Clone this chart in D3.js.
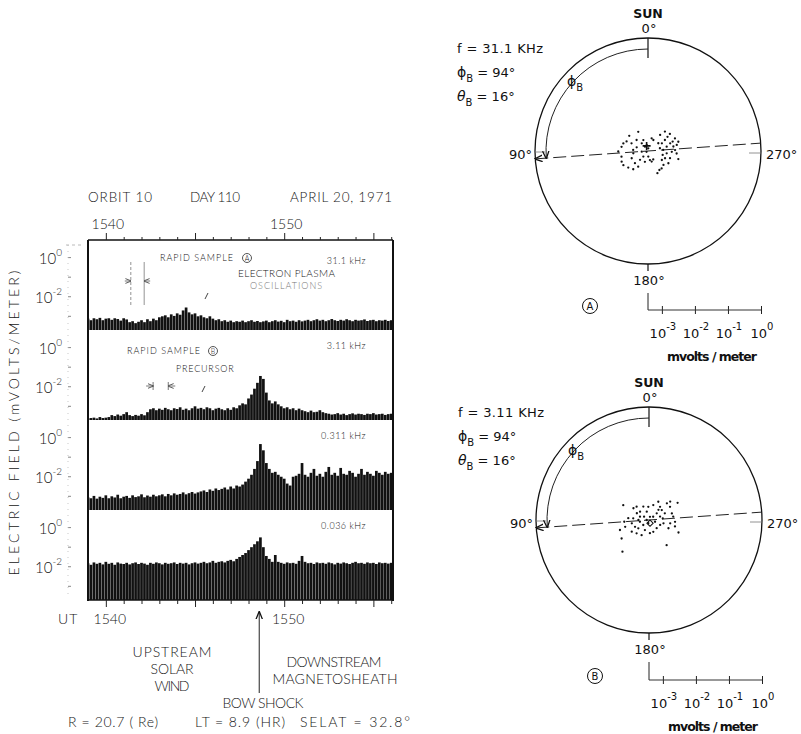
<!DOCTYPE html>
<html>
<head>
<meta charset="utf-8">
<script src="https://cdn.jsdelivr.net/npm/d3@7"></script>
<style>
  html, body { margin: 0; padding: 0; background: #fff; }
  svg { display: block; }
  .lt { font-family: Lato, "Open Sans", "DejaVu Sans", sans-serif; font-weight: 300; fill: #151515; }
  .pl { font-family: "DejaVu Sans", sans-serif; fill: #111; }
</style>
</head>
<body>
<svg id="fig" width="801" height="734"></svg>
<script>
// ---- Time series: log10 of electric field (mV/m), one sample every 10 s from 15:39:00 UT ----
const startMinute = 39;      // minutes after 15:00 UT
const stepMinute = 1 / 6;    // 10 s sampling
const bowShockMinute = 48.6;

const logE_31_1kHz = [
  -3.12,-3.20,-3.10,-3.15,-3.08,-3.20,-3.12,-3.10,-3.18,-3.10,
  -3.14,-3.22,-3.10,-3.16,-3.30,-3.25,-3.35,-3.28,-3.20,-3.30,
  -3.15,-3.25,-3.12,-3.20,-3.05,-3.00,-2.95,-3.05,-2.90,-2.98,
  -2.85,-2.92,-2.70,-2.55,-2.80,-2.90,-2.85,-3.00,-2.95,-3.05,
  -3.10,-3.00,-3.12,-3.20,-3.15,-3.25,-3.20,-3.28,-3.22,-3.30,
  -3.25,-3.28,-3.22,-3.30,-3.25,-3.20,-3.28,-3.24,-3.30,-3.26,
  -3.22,-3.30,-3.25,-3.20,-3.27,-3.23,-3.30,-3.18,-3.25,-3.22,
  -3.28,-3.20,-3.26,-3.22,-3.18,-3.25,-3.20,-3.15,-3.22,-3.18,
  -3.25,-3.20,-3.14,-3.20,-3.24,-3.18,-3.22,-3.15,-3.20,-3.25,
  -3.18,-3.22,-3.20,-3.16,-3.24,-3.20,-3.18,-3.25,-3.20,-3.22,
  -3.18,-3.24,-3.20
];
const logE_3_11kHz = [
  -3.62,-3.60,-3.58,-3.62,-3.55,-3.60,-3.58,-3.55,-3.45,-3.50,
  -3.42,-3.48,-3.40,-3.30,-3.45,-3.50,-3.44,-3.48,-3.40,-3.46,
  -3.30,-3.15,-3.10,-3.20,-3.12,-3.18,-3.08,-3.15,-3.20,-3.10,
  -3.14,-3.05,-3.18,-3.12,-3.20,-3.10,-3.00,-3.12,-3.08,-3.15,
  -3.05,-3.10,-3.20,-3.12,-3.08,-3.15,-3.20,-3.10,-3.18,-3.05,
  -3.10,-2.95,-2.85,-2.90,-2.60,-2.40,-2.10,-1.80,-1.45,-1.60,
  -2.30,-2.70,-2.85,-2.75,-2.90,-3.00,-3.10,-3.05,-3.15,-3.10,
  -3.20,-3.12,-3.20,-3.25,-3.30,-3.22,-3.30,-3.28,-3.20,-3.30,
  -3.35,-3.38,-3.42,-3.40,-3.35,-3.42,-3.38,-3.45,-3.40,-3.36,
  -3.42,-3.38,-3.40,-3.44,-3.38,-3.40,-3.35,-3.42,-3.40,-3.38,
  -3.44,-3.40,-3.38
];
const logE_0_311kHz = [
  -3.05,-3.10,-2.98,-3.12,-3.02,-3.08,-2.95,-3.10,-3.00,-3.06,
  -2.92,-3.10,-3.02,-2.98,-3.08,-2.95,-3.04,-3.00,-2.90,-3.05,
  -2.96,-3.02,-2.92,-3.00,-2.95,-2.90,-3.00,-2.88,-2.95,-2.85,
  -2.92,-2.88,-2.80,-2.90,-2.84,-2.78,-2.86,-2.80,-2.75,-2.70,
  -2.78,-2.65,-2.72,-2.60,-2.68,-2.62,-2.55,-2.65,-2.50,-2.60,
  -2.45,-2.50,-2.40,-2.25,-2.10,-1.90,-1.60,-1.20,-0.33,-0.65,
  -1.30,-1.60,-1.80,-1.75,-1.90,-2.00,-2.10,-2.35,-2.45,-2.00,
  -1.95,-1.85,-1.30,-1.90,-2.00,-1.80,-1.60,-1.95,-1.85,-2.00,
  -1.75,-1.50,-1.90,-1.80,-1.95,-1.55,-1.85,-1.90,-1.70,-1.80,
  -2.00,-1.85,-1.60,-1.90,-1.75,-1.85,-1.95,-1.70,-1.80,-1.90,
  -1.75,-1.85,-1.80
];
const logE_0_036kHz = [
  -1.82,-1.90,-1.78,-1.85,-1.80,-1.88,-1.75,-1.85,-1.80,-1.90,
  -1.78,-1.84,-1.86,-1.80,-1.88,-1.82,-1.78,-1.86,-1.80,-1.84,
  -1.90,-1.80,-1.85,-1.78,-1.82,-1.88,-1.80,-1.85,-1.82,-1.78,
  -1.86,-1.80,-1.84,-1.80,-1.88,-1.82,-1.78,-1.84,-1.80,-1.75,
  -1.82,-1.78,-1.70,-1.80,-1.75,-1.72,-1.78,-1.70,-1.65,-1.72,
  -1.60,-1.50,-1.40,-1.30,-1.15,-1.00,-0.85,-0.70,-0.50,-1.00,
  -1.45,-1.60,-1.75,-1.40,-1.75,-1.80,-1.85,-1.78,-1.82,-1.80,
  -1.85,-1.70,-1.45,-1.75,-1.82,-1.80,-1.86,-1.78,-1.82,-1.80,
  -1.85,-1.78,-1.82,-1.88,-1.80,-1.84,-1.78,-1.82,-1.86,-1.80,
  -1.75,-1.82,-1.80,-1.85,-1.78,-1.82,-1.80,-1.86,-1.78,-1.82,
  -1.80,-1.84,-1.80
];
const channelLabels = ["31.1 kHz", "3.11 kHz", "0.311 kHz", "0.036 kHz"];
const channelSeries = [logE_31_1kHz, logE_3_11kHz, logE_0_311kHz, logE_0_036kHz];
const fieldTickExponents = [0, -2];
const timeLabelMinutes = [40, 50];
const rapidSampleA = [41.4, 42.15];
const rapidSampleB = [42.65, 43.5];

// ---- Rapid-sample polar plots: [azimuth from Sun (deg, counter-clockwise), log10 E (mV/m)] ----
const scatterA = [
  [27,-2.77],[51,-2.69],[66,-2.71],[73,-2.64],[81,-2.61],[91,-2.52],[102,-2.60],[112,-2.56],[120,-2.56],[130,-2.64],
  [141,-2.71],[148,-2.86],[133,-2.88],[114,-2.88],[99,-2.97],[72,-3.06],[39,-3.12],[23,-3.06],[12,-3.24],[354,-3.34],
  [35,-3.26],[118,-3.37],[140,-3.20],[138,-3.06],[164,-3.08],[192,-3.14],[199,-3.08],[212,-3.12],[183,-3.25],[96,-3.23],
  [344,-3.02],[334,-3.05],[46,-2.94],[65,-2.87],[86,-2.97],
  [323,-2.81],[319,-2.64],[308,-2.58],[295,-2.52],[287,-2.46],[282,-2.53],[280,-2.64],[289,-2.71],[303,-2.81],[299,-2.94],
  [283,-3.05],[274,-2.96],[263,-2.85],[268,-2.70],[265,-2.55],[255,-2.47],[252,-2.72],[247,-2.86],[237,-2.92],[228,-2.79],
  [218,-2.75],[211,-2.75],[203,-2.69],[239,-2.70],[272,-2.60],[283,-2.84],[255,-2.96],[307,-3.03],[306,-2.69],[291,-2.62]
];
const scatterB = [
  [60,-2.52],[94,-2.67],[109,-2.49],[140,-2.17],[53,-2.83],[43,-2.87],[47,-3.05],[23,-2.98],[3,-3.02],[344,-2.95],
  [333,-2.80],[320,-2.90],[308,-2.93],[313,-2.68],[311,-2.57],[301,-2.41],[278,-2.68],[266,-2.63],[261,-2.77],[247,-2.78],
  [247,-2.45],[256,-2.61],[287,-3.07],[311,-3.11],[308,-3.26],[70,-3.13],[90,-3.10],[84,-2.94],[101,-2.89],[116,-2.95],
  [128,-3.01],[131,-3.19],[101,-3.14],[168,-3.32],[158,-3.09],[184,-3.02],[200,-3.04],[223,-3.08],[246,-3.05],[257,-2.97],
  [215,-2.49],[124,-2.42],[106,-2.67],[85,-2.79],[56,-3.24],[90,-3.35],[254,-3.23],[124,-2.79],[137,-2.87],[154,-2.91],
  [277,-3.00],[286,-2.70],[302,-2.67],[293,-2.90],[343,-3.32],[61,-3.00],[15,-3.16],[317,-3.00]
];
const markA = [15, -3.26];
const markB = [198, -3.32];
const fieldAzimuth = 94;       // phi_B (deg)
const fieldElevation = 16;     // theta_B (deg)
const scaleTickValues = [1e-3, 1e-2, 1e-1, 1e0];
const scaleTickExps = ["-3", "-2", "-1", "0"];

// ------------------------------------------------------------------
const svg = d3.select("#fig");
const defs = svg.append("defs");
function arrowMarker(id, size, fill) {
  defs.append("marker").attr("id", id)
    .attr("viewBox", "0 0 10 10").attr("refX", 9).attr("refY", 5)
    .attr("markerWidth", size).attr("markerHeight", size)
    .attr("markerUnits", "userSpaceOnUse")
    .attr("orient", "auto-start-reverse")
    .append("path").attr("d", "M0,1 L10,5 L0,9").attr("fill", "none")
    .attr("stroke", fill).attr("stroke-width", 1.6);
}
arrowMarker("arr", 8, "#111");
arrowMarker("arrSmall", 6, "#555");
defs.append("clipPath").attr("id", "boxClip").append("rect")
  .attr("x", 88).attr("y", 240).attr("width", 305).attr("height", 360);

// ---- Left: four stacked channels ----
const boxL = 88, boxR = 393, boxT = 240, panelH = 90;
const time = d3.scaleLinear().domain([39, 56.1]).range([boxL, boxR]);

const plotG = svg.append("g").attr("clip-path", "url(#boxClip)");
channelSeries.forEach((series, p) => {
  const top = boxT + p * panelH, bottom = top + panelH;
  const y = d3.scaleLog().domain([10 ** -3.7, 10 ** 0.9]).range([bottom, top]);
  plotG.append("g").selectAll("rect").data(series).join("rect")
    .attr("x", (d, i) => time(startMinute + i * stepMinute) - 1.35)
    .attr("width", 2.7)
    .attr("y", d => y(10 ** d))
    .attr("height", d => bottom - y(10 ** d))
    .attr("fill", "#111");

  // decade tick dots left of the box
  const tg = svg.append("g");
  d3.range(-3, 1).forEach(e => {
    tg.append("line").attr("x1", 68).attr("x2", 71)
      .attr("y1", y(10 ** e)).attr("y2", y(10 ** e))
      .attr("stroke", "#888").attr("stroke-width", 1);
  });
  fieldTickExponents.forEach(e => {
    const t = svg.append("text").attr("class", "lt")
      .attr("x", 62).attr("y", y(10 ** e) + 6)
      .attr("text-anchor", "end").attr("font-size", 15);
    t.append("tspan").text("10");
    t.append("tspan").attr("dy", -8).attr("font-size", 10).text(e === 0 ? "0" : "-2");
  });
  svg.append("text").attr("class", "lt").attr("x", 366).attr("y", top + (p === 0 ? 24 : 19))
    .attr("text-anchor", "end").attr("font-size", 9).attr("letter-spacing", 0.5)
    .text(channelLabels[p]);
});

// faint dotted guide at the tick column
svg.append("line").attr("x1", 68).attr("x2", 68).attr("y1", 245).attr("y2", 598)
  .attr("stroke", "#bbb").attr("stroke-width", 0.8).attr("stroke-dasharray", "1,5");
svg.append("line").attr("x1", 66).attr("x2", 84).attr("y1", 245).attr("y2", 245)
  .attr("stroke", "#aaa").attr("stroke-width", 0.8).attr("stroke-dasharray", "3,3");

// box frame
svg.append("line").attr("x1", boxL).attr("x2", boxR).attr("y1", boxT).attr("y2", boxT)
  .attr("stroke", "#111").attr("stroke-width", 1.3);
svg.append("line").attr("x1", boxL).attr("x2", boxL).attr("y1", boxT).attr("y2", 601)
  .attr("stroke", "#111").attr("stroke-width", 2);
svg.append("line").attr("x1", boxR).attr("x2", boxR).attr("y1", boxT).attr("y2", 601)
  .attr("stroke", "#111").attr("stroke-width", 2);
svg.append("line").attr("x1", boxL).attr("x2", boxR).attr("y1", 600).attr("y2", 600)
  .attr("stroke", "#111").attr("stroke-width", 1.3);

// minute ticks, top and bottom
const minuteTicks = d3.range(40, 57);
const topAxis = svg.append("g").attr("transform", `translate(0,${boxT})`)
  .call(d3.axisTop(time).tickValues(minuteTicks).tickSize(3).tickFormat(""));
const botAxis = svg.append("g").attr("transform", "translate(0,600)")
  .call(d3.axisBottom(time).tickValues(minuteTicks).tickSize(4).tickFormat(""));
[topAxis, botAxis].forEach((ax, k) => {
  ax.select(".domain").remove();
  ax.selectAll(".tick line").attr("stroke", "#222").attr("stroke-width", 1)
    .attr("y2", d => (d % 5 === 0 ? 7 : (k === 0 ? 3 : 4)) * (k === 0 ? -1 : 1));
});
timeLabelMinutes.forEach(m => {
  svg.append("text").attr("class", "lt").attr("x", time(m) + 2).attr("y", 229)
    .attr("text-anchor", "middle").attr("font-size", 14).text(1500 + m);
  svg.append("text").attr("class", "lt").attr("x", time(m) + 4).attr("y", 624)
    .attr("text-anchor", "middle").attr("font-size", 14).text(1500 + m);
});
svg.append("text").attr("class", "lt").attr("x", 58).attr("y", 624).attr("font-size", 14)
  .attr("letter-spacing", 1).text("UT");

// header
const header = [["ORBIT 10", 88, "start", 64], ["DAY 110", 190, "start", 50], ["APRIL 20, 1971", 392, "end", 102]];
header.forEach(([s, x, a, w]) => svg.append("text").attr("class", "lt").attr("x", x).attr("y", 202)
  .attr("text-anchor", a).attr("font-size", 13.5).attr("textLength", w).attr("lengthAdjust", "spacing").text(s));

// y title
svg.append("text").attr("class", "lt")
  .attr("transform", "translate(19,423) rotate(-90)")
  .attr("text-anchor", "middle").attr("font-size", 14)
  .attr("textLength", 305).attr("lengthAdjust", "spacing")
  .text("ELECTRIC FIELD (mVOLTS/METER)");

// annotations inside panels
function circledLetter(x, y, ch, r, fs, cls) {
  svg.append("circle").attr("cx", x).attr("cy", y).attr("r", r)
    .attr("fill", "none").attr("stroke", cls === "pl" ? "#111" : "#555").attr("stroke-width", 1);
  svg.append("text").attr("class", cls).attr("x", x).attr("y", y + fs * 0.36)
    .attr("text-anchor", "middle").attr("font-size", fs).text(ch);
}
svg.append("text").attr("class", "lt").attr("x", 160).attr("y", 261).attr("font-size", 9)
  .attr("letter-spacing", 1).text("RAPID SAMPLE");
circledLetter(247, 258, "A", 4.5, 7, "lt");
svg.append("text").attr("class", "lt").attr("x", 238).attr("y", 277).attr("font-size", 10)
  .attr("textLength", 97).attr("lengthAdjust", "spacing").text("ELECTRON PLASMA");
svg.append("text").attr("class", "lt").attr("x", 250).attr("y", 289).attr("font-size", 9)
  .attr("letter-spacing", 1).style("fill", "#777").text("OSCILLATIONS");
svg.append("text").attr("class", "lt").attr("x", 127).attr("y", 354).attr("font-size", 9)
  .attr("letter-spacing", 1).text("RAPID SAMPLE");
circledLetter(213, 351, "B", 4.5, 7, "lt");
svg.append("text").attr("class", "lt").attr("x", 176).attr("y", 372).attr("font-size", 9)
  .attr("letter-spacing", 0.8).text("PRECURSOR");

// rapid-sample intervals
rapidSampleA.forEach((m, k) => {
  svg.append("line").attr("x1", time(m)).attr("x2", time(m)).attr("y1", 262).attr("y2", 305)
    .attr("stroke", "#777").attr("stroke-width", 0.8).attr("stroke-dasharray", k ? "none" : "3,2");
  svg.append("line").attr("x1", time(m) + (k ? 6 : -6)).attr("x2", time(m)).attr("y1", 281).attr("y2", 281)
    .attr("stroke", "#555").attr("stroke-width", 0.8).attr("marker-end", "url(#arrSmall)");
});
rapidSampleB.forEach((m, k) => {
  svg.append("line").attr("x1", time(m)).attr("x2", time(m)).attr("y1", 382).attr("y2", 390)
    .attr("stroke", "#555").attr("stroke-width", 0.8);
  svg.append("line").attr("x1", time(m) + (k ? 7 : -7)).attr("x2", time(m)).attr("y1", 386).attr("y2", 386)
    .attr("stroke", "#555").attr("stroke-width", 0.8).attr("marker-end", "url(#arrSmall)");
});
svg.append("line").attr("x1", 208).attr("x2", 205).attr("y1", 293).attr("y2", 299)
  .attr("stroke", "#444").attr("stroke-width", 1);
svg.append("line").attr("x1", 205).attr("x2", 202).attr("y1", 386).attr("y2", 392)
  .attr("stroke", "#444").attr("stroke-width", 1);

// bow shock arrow and region labels
svg.append("line").attr("x1", time(bowShockMinute)).attr("x2", time(bowShockMinute))
  .attr("y1", 693).attr("y2", 612).attr("stroke", "#222").attr("stroke-width", 1)
  .attr("marker-end", "url(#arr)");
const regionText = [
  ["UPSTREAM", 172, 657, 79], ["SOLAR", 172, 674, 43], ["WIND", 172, 691, 35],
  ["DOWNSTREAM", 334, 667, 95], ["MAGNETOSHEATH", 335, 684, 125], ["BOW SHOCK", 263, 708, 81]
];
regionText.forEach(([s, x, y, w]) => svg.append("text").attr("class", "lt").attr("x", x).attr("y", y)
  .attr("text-anchor", "middle").attr("font-size", 14).attr("textLength", w).attr("lengthAdjust", "spacing").text(s));
const orbitText = [["R = 20.7 ( Re)", 68, 90], ["LT = 8.9 (HR)", 195, 90], ["SELAT = 32.8°", 300, 110]];
orbitText.forEach(([s, x, w]) => svg.append("text").attr("class", "lt").attr("x", x).attr("y", 727)
  .attr("font-size", 14).attr("textLength", w).attr("lengthAdjust", "spacing").text(s));

// ---- Right: polar plots ----
const R = 113;
const radius = d3.scaleLog().domain([10 ** -3.42, 1]).range([0, R]);
const rad = Math.PI / 180;
function polarXY(cx, cy, az, r) {
  return [cx - r * Math.sin(az * rad), cy - r * Math.cos(az * rad)];
}

function drawPolar(cx, cy, o) {
  const g = svg.append("g");
  g.append("circle").attr("cx", cx).attr("cy", cy).attr("r", R)
    .attr("fill", "none").attr("stroke", "#111").attr("stroke-width", 1.3);
  // Sun tick
  g.append("line").attr("x1", cx).attr("x2", cx).attr("y1", cy - R).attr("y2", cy - R + 20)
    .attr("stroke", "#111").attr("stroke-width", 1.2);
  // 180 tick
  g.append("line").attr("x1", cx).attr("x2", cx).attr("y1", cy + R).attr("y2", cy + R + 7)
    .attr("stroke", "#111").attr("stroke-width", 1.2);
  // 90 and 270 ticks
  g.append("line").attr("x1", cx - R).attr("x2", cx - R + 10).attr("y1", cy + 1).attr("y2", cy + 1)
    .attr("stroke", "#777").attr("stroke-width", 0.8);
  g.append("line").attr("x1", cx + R - 12).attr("x2", cx + R).attr("y1", cy + 2).attr("y2", cy + 2)
    .attr("stroke", "#777").attr("stroke-width", 0.8);
  // phi_B arc
  const p = d3.path();
  const a0 = -Math.PI / 2;
  p.arc(cx, cy, 102, a0, a0 - fieldAzimuth * rad, true);
  g.append("path").attr("d", p.toString()).attr("fill", "none")
    .attr("stroke", "#222").attr("stroke-width", 1).attr("marker-end", "url(#arr)");
  // field direction line
  const [x1, y1] = polarXY(cx, cy, fieldAzimuth, R);
  const [x2, y2] = polarXY(cx, cy, fieldAzimuth + 180, R);
  g.append("line").attr("x1", x1).attr("y1", y1).attr("x2", x2).attr("y2", y2)
    .attr("stroke", "#222").attr("stroke-width", 1).attr("stroke-dasharray", "13,5")
    .attr("marker-start", "url(#arr)");
  // samples
  g.append("g").selectAll("circle").data(o.points).join("circle")
    .attr("cx", d => polarXY(cx, cy, d[0], radius(10 ** d[1]))[0])
    .attr("cy", d => polarXY(cx, cy, d[0], radius(10 ** d[1]))[1])
    .attr("r", 1.15).attr("fill", "#111");
  const [mx, my] = polarXY(cx, cy, o.mark[0], radius(10 ** o.mark[1]));
  if (o.markType === "cross") {
    g.append("path").attr("d", `M${mx - 4},${my}H${mx + 4}M${mx},${my - 4}V${my + 4}`)
      .attr("stroke", "#111").attr("stroke-width", 1.6);
  } else {
    g.append("path").attr("transform", `translate(${mx},${my}) rotate(45)`)
      .attr("d", d3.symbol(d3.symbolSquare, 20)())
      .attr("fill", "none").attr("stroke", "#111").attr("stroke-width", 1);
  }

  // labels
  g.append("text").attr("class", "pl").attr("x", cx).attr("y", cy - R - 20).attr("text-anchor", "middle")
    .attr("font-size", 12.5).attr("font-weight", "bold").text("SUN");
  g.append("text").attr("class", "pl").attr("x", cx + 1).attr("y", cy - R - 5).attr("text-anchor", "middle")
    .attr("font-size", 13).text("0°");
  g.append("text").attr("class", "pl").attr("x", cx - R - 3).attr("y", cy + 8).attr("text-anchor", "end")
    .attr("font-size", 13).text("90°");
  g.append("text").attr("class", "pl").attr("x", cx + R + 5).attr("y", cy + 8)
    .attr("font-size", 13).text("270°");
  g.append("text").attr("class", "pl").attr("x", cx + 1).attr("y", cy + R + 21).attr("text-anchor", "middle")
    .attr("font-size", 13).text("180°");
  // parameters
  const tx = cx - 191;
  g.append("text").attr("class", "pl").attr("x", tx).attr("y", o.textY).attr("font-size", 13)
    .attr("textLength", 86).attr("lengthAdjust", "spacing").text(o.freq);
  const t2 = g.append("text").attr("class", "pl").attr("x", tx).attr("y", o.textY + 24).attr("font-size", 14);
  t2.append("tspan").text("ϕ");
  t2.append("tspan").attr("dy", 5).attr("font-size", 10).text("B");
  t2.append("tspan").attr("dy", -5).attr("font-size", 13).text(` = ${fieldAzimuth}°`);
  const t3 = g.append("text").attr("class", "pl").attr("x", tx).attr("y", o.textY + 48).attr("font-size", 14);
  t3.append("tspan").attr("font-style", "italic").text("θ");
  t3.append("tspan").attr("dy", 5).attr("font-size", 10).text("B");
  t3.append("tspan").attr("dy", -5).attr("font-size", 13).text(` = ${fieldElevation}°`);
  const t4 = g.append("text").attr("class", "pl").attr("x", cx - 81).attr("y", cy - 65).attr("font-size", 14);
  t4.append("tspan").text("ϕ");
  t4.append("tspan").attr("dy", 5).attr("font-size", 10).text("B");

  // amplitude scale
  const sy = o.scaleY;
  g.append("line").attr("x1", cx).attr("x2", cx).attr("y1", cy + R + 29).attr("y2", sy)
    .attr("stroke", "#222").attr("stroke-width", 1);
  const ax = g.append("g").attr("transform", `translate(${cx},${sy})`)
    .call(d3.axisBottom(radius).tickValues(scaleTickValues).tickSize(3).tickFormat(""));
  ax.select(".domain").remove();
  ax.append("line").attr("x1", 0).attr("x2", R).attr("stroke", "#333").attr("stroke-width", 1);
  ax.selectAll(".tick line").attr("y1", -4).attr("y2", 4).attr("stroke", "#222");
  scaleTickValues.forEach((v, i) => {
    const t = g.append("text").attr("class", "pl").attr("x", cx + radius(v) + 1).attr("y", sy + 28)
      .attr("text-anchor", "middle").attr("font-size", 13);
    t.append("tspan").text("10");
    t.append("tspan").attr("dy", -8).attr("font-size", 10).text(scaleTickExps[i]);
  });
  g.append("text").attr("class", "pl").attr("x", cx + 64).attr("y", sy + 51).attr("text-anchor", "middle")
    .attr("font-size", 12.5).attr("font-weight", "bold").attr("textLength", 90).attr("lengthAdjust", "spacing")
    .text("mvolts / meter");
  circledLetter(o.letterX, sy - 4, o.letter, 7.5, 10, "pl");
}

drawPolar(648, 151, { points: scatterA, mark: markA, markType: "cross", freq: "f = 31.1 KHz",
  textY: 53, scaleY: 310, letter: "A", letterX: 590 });
drawPolar(649, 520, { points: scatterB, mark: markB, markType: "diamond", freq: "f = 3.11 KHz",
  textY: 417, scaleY: 680, letter: "B", letterX: 595 });
</script>
</body>
</html>
